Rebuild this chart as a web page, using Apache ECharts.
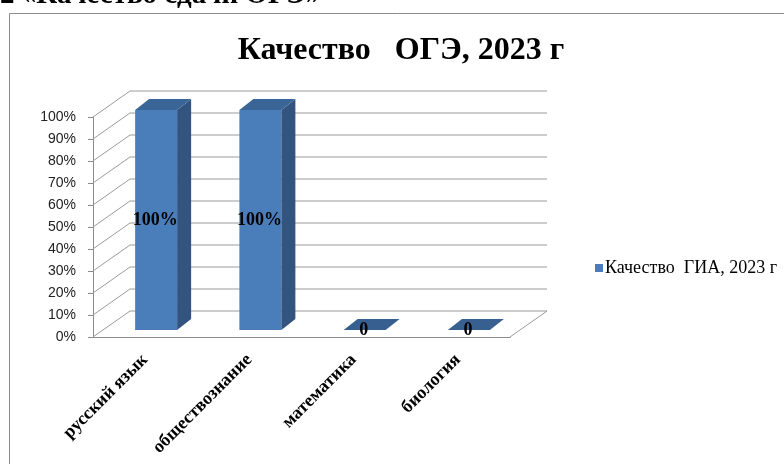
<!DOCTYPE html>
<html>
<head>
<meta charset="utf-8">
<script src="https://cdn.jsdelivr.net/npm/echarts@6/dist/echarts.min.js"></script>
<style>
  html, body { margin: 0; padding: 0; background: #fff; }
  #chart { width: 784px; height: 464px; }
</style>
</head>
<body>
<div id="chart"></div>
<script>
// данные
var categories = ["русский язык", "обществознание", "математика", "биология"];
var quality = [100, 100, 0, 0];
var yTicks = [0, 10, 20, 30, 40, 50, 60, 70, 80, 90, 100];

var DEPTH = [37, -26];      // глубина "задней стенки"
var BAR_SHIFT = [11, -7];   // сдвиг столбика внутрь
var BAR_DEPTH = [14, -11];
var BAR_W = 42;
var serif = '"Liberation Serif", "Times New Roman", serif';

var myChart = echarts.init(document.getElementById("chart"));

function renderWall(params, api) {
  var v = api.value(1);
  var half = api.size([1, 0])[0] / 2;
  var a = api.coord([0, v]);
  var b = api.coord([categories.length - 1, v]);
  var x0 = a[0] - half, x1 = b[0] + half, y = a[1];
  var pts = [[x0, y], [x0 + DEPTH[0], y + DEPTH[1]], [x1 + DEPTH[0], y + DEPTH[1]]];
  if (v === 0) pts.push([x1, y]);
  return {
    type: "polyline",
    shape: { points: pts },
    style: { stroke: "#9a9a9a", lineWidth: 1, fill: null }
  };
}

function renderBar(params, api) {
  var idx = api.value(0), val = api.value(1);
  var base = api.coord([idx, 0]);
  var top = api.coord([idx, val]);
  var cx = base[0] + BAR_SHIFT[0];
  var x0 = cx - BAR_W / 2, x1 = cx + BAR_W / 2;
  var yb = base[1] + BAR_SHIFT[1], yt = top[1] + BAR_SHIFT[1];
  var dx = BAR_DEPTH[0], dy = BAR_DEPTH[1];
  var children = [];
  if (val > 0) {
    children.push({
      type: "rect",
      shape: { x: x0, y: yt, width: BAR_W, height: yb - yt },
      style: { fill: "#4a7ebb" }
    });
    children.push({
      type: "polygon",
      shape: { points: [[x1, yt], [x1 + dx, yt + dy], [x1 + dx, yb + dy], [x1, yb]] },
      style: { fill: "#33547f" }
    });
  }
  children.push({
    type: "polygon",
    shape: { points: [[x0, yt], [x1, yt], [x1 + dx, yt + dy], [x0 + dx, yt + dy]] },
    style: { fill: val > 0 ? "#3a6597" : "#375f8f" }
  });
  children.push({
    type: "text",
    style: {
      text: val > 0 ? val + "%" : "0",
      x: cx - 1, y: val > 0 ? (yb + yt) / 2 : yb,
      align: "center", verticalAlign: "middle",
      font: "bold 18px " + serif, fill: "#000"
    }
  });
  return { type: "group", children: children };
}

var option = {
  animation: false,
  graphic: [
    { type: "rect", shape: { x: 9.5, y: 13.5, width: 800, height: 500 },
      style: { fill: null, stroke: "#8c8c8c", lineWidth: 1 } },
    { type: "text", x: 0, y: 10,
      style: { text: "2 «Качество сдачи ОГЭ»", font: "bold 29px " + serif,
               fill: "#000", verticalAlign: "bottom" } }
  ],
  title: {
    text: "Качество   ОГЭ, 2023 г",
    left: 396, top: 30, textAlign: "center",
    textStyle: { fontFamily: serif, fontSize: 32, fontWeight: "bold", color: "#000" }
  },
  legend: {
    left: 595, top: 259, padding: 0,
    itemWidth: 8, itemHeight: 8, itemGap: 0,
    icon: "rect",
    data: [{ name: "Качество  ГИА, 2023 г", itemStyle: { color: "#4a7ebb" } }],
    textStyle: { fontFamily: serif, fontSize: 18, color: "#000", padding: [0, 0, 0, -3] }
  },
  grid: { left: 93, right: 274, top: 117, bottom: 127 },
  xAxis: {
    type: "category",
    data: categories,
    axisLine: { lineStyle: { color: "#8c8c8c" } },
    axisTick: { length: 5, lineStyle: { color: "#8c8c8c" } },
    axisLabel: {
      rotate: 45, margin: 20, interval: 0,
      fontFamily: serif, fontSize: 18, fontWeight: "bold", color: "#000"
    }
  },
  yAxis: {
    type: "value",
    min: 0, max: 100, interval: 10,
    axisLine: { show: true, lineStyle: { color: "#8c8c8c" } },
    axisTick: { show: true, length: 5, lineStyle: { color: "#8c8c8c" } },
    splitLine: { show: false },
    axisLabel: {
      formatter: "{value}%", margin: 17,
      fontFamily: '"Liberation Sans", Arial, sans-serif', fontSize: 14, color: "#222"
    }
  },
  series: [
    {
      type: "custom",
      name: "walls",
      silent: true,
      renderItem: renderWall,
      encode: { x: 0, y: 1 },
      data: yTicks.map(function (t) { return [0, t]; }),
      z: 1
    },
    {
      type: "custom",
      name: "Качество  ГИА, 2023 г",
      renderItem: renderBar,
      encode: { x: 0, y: 1 },
      data: quality.map(function (v, i) { return [i, v]; }),
      z: 3
    }
  ]
};

myChart.setOption(option);
</script>
</body>
</html>
